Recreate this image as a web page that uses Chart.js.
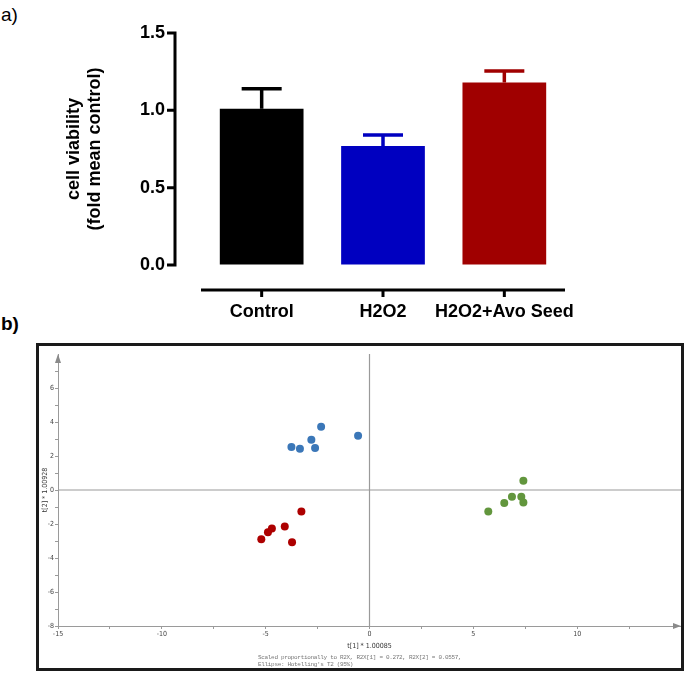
<!DOCTYPE html>
<html><head><meta charset="utf-8">
<script src="https://cdn.jsdelivr.net/npm/chart.js@4"></script>
<style>
html,body{margin:0;padding:0;background:#fff;}
body{width:685px;height:674px;position:relative;overflow:hidden;}
#ca{position:absolute;left:0;top:0;}
#cb{position:absolute;left:0;top:330px;}
.lab{position:absolute;left:1px;font-family:'Liberation Sans',Arial,sans-serif;font-size:19px;line-height:20px;color:#000;}
#frame{position:absolute;left:36px;top:343px;width:648px;height:328px;border:3px solid #1a1a1a;box-sizing:border-box;pointer-events:none;}
.foot{position:absolute;left:258px;font-family:'Liberation Mono','DejaVu Sans Mono',monospace;font-size:6px;letter-spacing:-0.32px;color:#777;white-space:pre;line-height:7px;}
</style>
</head><body>
<div class="lab" style="top:5px;">a)</div>
<div class="lab" style="top:314px;font-weight:bold;">b)</div>
<canvas id="ca" width="685" height="330"></canvas>
<canvas id="cb" width="685" height="344"></canvas>
<div id="frame"></div>
<div class="foot" style="top:654px;">Scaled proportionally to R2X, R2X[1] = 0.272, R2X[2] = 0.0557,
Ellipse: Hotelling's T2 (95%)</div>
<script>
// ---- panel a data ----
const categories = ['Control', 'H2O2', 'H2O2+Avo Seed'];
const viability = [1.01, 0.77, 1.18];
const viabilityErr = [0.13, 0.07, 0.075];
const barColors = ['#000000', '#0000c0', '#a00000'];
const yTicksA = [0, 0.5, 1.0, 1.5];

// ---- panel b data (scores t[1], t[2]) ----
const blueX = [-3.76, -3.35, -2.80, -2.62, -2.33, -0.55];
const blueY = [2.53, 2.43, 2.96, 2.47, 3.72, 3.19];
const redX = [-5.21, -4.89, -4.70, -4.08, -3.73, -3.28];
const redY = [-2.90, -2.49, -2.26, -2.14, -3.08, -1.26];
const greenX = [7.41, 5.72, 6.49, 6.86, 7.31, 7.41];
const greenY = [0.55, -1.26, -0.77, -0.39, -0.39, -0.73];

const boldFont = {family: "'Liberation Sans', Arial, sans-serif", size: 18, weight: 'bold'};

const axesA = {
  id: 'axesA',
  afterDatasetsDraw(chart) {
    const {ctx, chartArea: ca, scales: {x, y}} = chart;
    ctx.save();
    ctx.lineWidth = 3.5;
    ctx.lineCap = 'butt';
    viability.forEach((v, i) => {
      const px = x.getPixelForValue(i);
      const y0 = y.getPixelForValue(v);
      const y1 = y.getPixelForValue(v + viabilityErr[i]);
      ctx.strokeStyle = barColors[i];
      ctx.beginPath();
      ctx.moveTo(px, y0); ctx.lineTo(px, y1);
      ctx.moveTo(px - 20, y1); ctx.lineTo(px + 20, y1);
      ctx.stroke();
    });
    ctx.strokeStyle = '#000';
    ctx.lineWidth = 3;
    const ax = ca.left - 26;
    ctx.beginPath();
    ctx.moveTo(ax, y.getPixelForValue(yTicksA[0]) + 1.5);
    ctx.lineTo(ax, y.getPixelForValue(yTicksA[yTicksA.length - 1]) - 1.5);
    yTicksA.forEach(t => {
      const py = y.getPixelForValue(t);
      ctx.moveTo(ax, py); ctx.lineTo(ax - 8, py);
    });
    ctx.stroke();
    const ay = ca.bottom + 25;
    ctx.beginPath();
    ctx.moveTo(ca.left, ay); ctx.lineTo(ca.right, ay);
    categories.forEach((c, i) => {
      const px = x.getPixelForValue(i);
      ctx.moveTo(px, ay); ctx.lineTo(px, ay + 7);
    });
    ctx.stroke();
    ctx.restore();
  }
};

new Chart(document.getElementById('ca'), {
  type: 'bar',
  data: {
    labels: categories,
    datasets: [{
      data: viability,
      backgroundColor: barColors,
      borderWidth: 0,
      categoryPercentage: 1,
      barPercentage: 0.69
    }]
  },
  options: {
    responsive: false, animation: false, events: [],
    layout: {padding: {left: 0, top: 33, right: 120, bottom: 0}},
    plugins: {legend: {display: false}, tooltip: {enabled: false}},
    scales: {
      x: {
        grid: {display: false, drawTicks: false},
        border: {display: false},
        ticks: {font: boldFont, color: '#000', padding: 36, maxRotation: 0, autoSkip: false},
        afterFit(s) { s.height = 65; }
      },
      y: {
        min: 0, max: 1.5,
        afterBuildTicks(s) { s.ticks = yTicksA.map(v => ({value: v})); },
        grid: {display: true, drawOnChartArea: false, drawTicks: true, tickLength: 36, tickColor: 'rgba(0,0,0,0)', color: 'rgba(0,0,0,0)'},
        border: {display: false},
        ticks: {callback: v => Number(v).toFixed(1), font: boldFont, color: '#000', padding: 0},
        title: {display: true, text: ['cell viability', '(fold mean control)'], font: boldFont, color: '#000', padding: {top: 63, bottom: 0}},
        afterFit(s) { s.width = 201; }
      }
    }
  },
  plugins: [axesA]
});

const smallFont = {family: "'DejaVu Sans Condensed', 'DejaVu Sans', sans-serif", size: 7};
const gray = '#9a9a9a';

const axesB = {
  id: 'axesB',
  beforeDatasetsDraw(chart) {
    const {ctx, chartArea: ca, scales: {x, y}} = chart;
    ctx.save();
    ctx.strokeStyle = gray;
    ctx.lineWidth = 1.2;
    const y0 = y.getPixelForValue(0), x0 = x.getPixelForValue(0);
    ctx.beginPath();
    ctx.moveTo(ca.left, y0); ctx.lineTo(ca.right, y0);
    ctx.moveTo(x0, ca.top); ctx.lineTo(x0, ca.bottom);
    ctx.stroke();
    ctx.fillStyle = '#8a8a8a';
    ctx.beginPath();
    ctx.moveTo(ca.right, ca.bottom); ctx.lineTo(ca.right - 8, ca.bottom - 3); ctx.lineTo(ca.right - 8, ca.bottom + 3); ctx.closePath();
    ctx.fill();
    ctx.beginPath();
    ctx.moveTo(ca.left, ca.top); ctx.lineTo(ca.left - 3, ca.top + 9); ctx.lineTo(ca.left + 3, ca.top + 9); ctx.closePath();
    ctx.fill();
    ctx.restore();
  }
};

const toPts = (xs, ys) => xs.map((v, i) => ({x: v, y: ys[i]}));

new Chart(document.getElementById('cb'), {
  type: 'scatter',
  data: {
    datasets: [
      {data: toPts(blueX, blueY), backgroundColor: '#3b77b8', borderColor: '#3b77b8', pointRadius: 4, borderWidth: 0},
      {data: toPts(redX, redY), backgroundColor: '#ad0000', borderColor: '#ad0000', pointRadius: 4, borderWidth: 0},
      {data: toPts(greenX, greenY), backgroundColor: '#62963d', borderColor: '#62963d', pointRadius: 4, borderWidth: 0}
    ]
  },
  options: {
    responsive: false, animation: false, events: [],
    layout: {padding: {left: 0, top: 24, right: 4, bottom: 0}},
    plugins: {legend: {display: false}, tooltip: {enabled: false}},
    scales: {
      x: {
        type: 'linear', min: -15, max: 15,
        grid: {display: true, drawOnChartArea: false, drawTicks: true, tickLength: 3, color: gray,
          tickColor: c => (c.tick && c.tick.value === 15) ? 'rgba(0,0,0,0)' : gray},
        border: {display: true, color: gray, width: 1},
        ticks: {stepSize: 2.5, font: smallFont, color: '#444', padding: 1, maxRotation: 0, autoSkip: false,
          callback: v => (v % 5 === 0 && v !== 15) ? String(v) : ''},
        title: {display: true, text: 't[1] * 1.00085', font: smallFont, color: '#333', padding: {top: 0, bottom: 24}},
        afterFit(s) { s.height = 48; }
      },
      y: {
        type: 'linear', min: -8, max: 8,
        grid: {display: true, drawOnChartArea: false, drawTicks: true, tickLength: 3, color: gray,
          tickColor: c => (c.tick && c.tick.value === 8) ? 'rgba(0,0,0,0)' : gray},
        border: {display: true, color: gray, width: 1},
        ticks: {stepSize: 1, font: smallFont, color: '#444', padding: 1, autoSkip: false,
          callback: v => (v % 2 === 0 && v !== 8) ? String(v) : ''},
        title: {display: true, text: 't[2] * 1.00928', font: smallFont, color: '#333', padding: {top: 41, bottom: 0}},
        afterFit(s) { s.width = 58; }
      }
    }
  },
  plugins: [axesB]
});
</script>
</body></html>
